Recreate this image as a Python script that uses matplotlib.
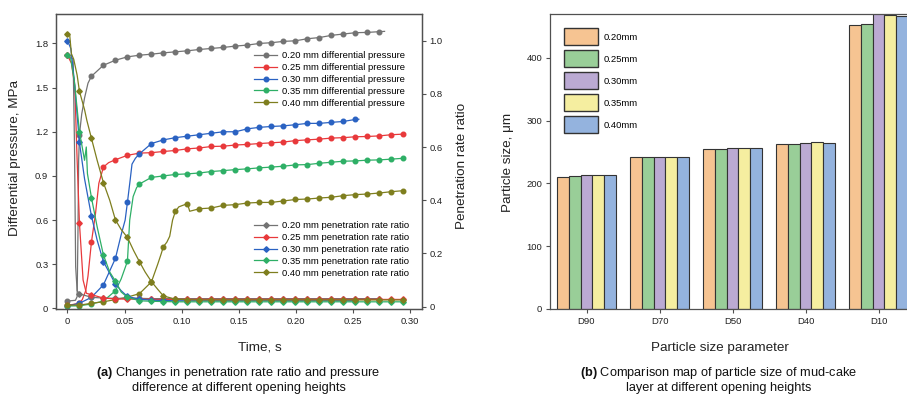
import matplotlib
matplotlib.use('Agg')
import matplotlib.pyplot as plt
import numpy as np
from matplotlib.lines import Line2D
from matplotlib.patches import Patch

plt.rcParams['font.family'] = ['Liberation Sans', 'DejaVu Sans']
plt.rcParams['mathtext.fontset'] = 'custom'
plt.rcParams['mathtext.rm'] = 'Liberation Sans'
plt.rcParams['mathtext.bf'] = 'Liberation Sans:bold'

# ---------------- data: panel (a) ----------------
STEP = 0.0105  # sampling interval of the marked points, s
openings = ['0.20', '0.25', '0.30', '0.35', '0.40']

# differential pressure (MPa) at marked points
p020 = [0.05, 1.18, 1.577, 1.652, 1.686, 1.709, 1.72, 1.727, 1.736, 1.743, 1.75, 1.759, 1.766, 1.773,
        1.782, 1.789, 1.80, 1.805, 1.814, 1.818, 1.832, 1.84, 1.855, 1.864, 1.873, 1.875, 1.88]
p020_xt = [0.007, 0.0085, 0.0092, 0.0098, 0.0125, 0.015, 0.018, 0.2775]
p020_xv = [0.055, 0.08, 0.5, 1.0, 1.32, 1.43, 1.53, 1.882]

p025 = [0.02, 0.035, 0.45, 0.96, 1.01, 1.04, 1.055, 1.058, 1.066, 1.073, 1.084, 1.09, 1.10, 1.102, 1.11,
        1.114, 1.12, 1.125, 1.13, 1.14, 1.145, 1.15, 1.157, 1.16, 1.166, 1.168, 1.172, 1.18, 1.184]
p025_xt = [0.013, 0.016, 0.018, 0.0245, 0.0275, 0.036]
p025_xv = [0.06, 0.12, 0.22, 0.64, 0.85, 0.99]

p030 = [0.016, 0.035, 0.075, 0.16, 0.34, 0.72, 1.05, 1.12, 1.145, 1.16, 1.17, 1.18, 1.19, 1.20, 1.20,
        1.22, 1.23, 1.236, 1.24, 1.248, 1.257, 1.257, 1.264, 1.27, 1.284]
p030_xt = [0.047, 0.0505, 0.055, 0.0565, 0.0595, 0.255]
p030_xv = [0.5, 0.6, 0.88, 0.98, 1.02, 1.285]

p035 = [0.016, 0.018, 0.03, 0.05, 0.12, 0.32, 0.845, 0.89, 0.90, 0.91, 0.914, 0.92, 0.93, 0.936, 0.943,
        0.948, 0.955, 0.96, 0.966, 0.975, 0.977, 0.986, 0.993, 1.0, 1.002, 1.007, 1.009, 1.014, 1.02]
p035_xt = [0.047, 0.0545, 0.0575, 0.0605]
p035_xv = [0.2, 0.6, 0.76, 0.82]

p040 = [0.023, 0.022, 0.035, 0.045, 0.06, 0.077, 0.10, 0.18, 0.42, 0.66, 0.712, 0.677, 0.682, 0.70, 0.705,
        0.716, 0.72, 0.72, 0.73, 0.74, 0.743, 0.75, 0.755, 0.766, 0.773, 0.777, 0.784, 0.793, 0.80]
p040_xt = [0.079, 0.082, 0.087, 0.0895, 0.092, 0.0975, 0.107]
p040_xv = [0.3, 0.37, 0.45, 0.49, 0.6, 0.69, 0.66]

# penetration rate ratio at marked points
r020 = [0.946, 0.048, 0.035, 0.032, 0.031, 0.031, 0.031, 0.03, 0.03, 0.03, 0.03, 0.03, 0.03, 0.03,
        0.03, 0.03, 0.03, 0.03, 0.03, 0.03, 0.03, 0.03, 0.03, 0.03, 0.03, 0.03, 0.03]
r020_xt = [0.005, 0.0062, 0.0072, 0.0085]
r020_xv = [0.93, 0.6, 0.15, 0.06]

r025 = [0.945, 0.315, 0.045, 0.032, 0.029, 0.028, 0.028, 0.027, 0.027, 0.027, 0.027, 0.027, 0.027, 0.027,
        0.027, 0.027, 0.027, 0.027, 0.027, 0.027, 0.027, 0.027, 0.027, 0.027, 0.027, 0.027, 0.027, 0.027, 0.027]
r025_xt = [0.0035, 0.0064, 0.0085, 0.0137, 0.0166]
r025_xv = [0.915, 0.83, 0.55, 0.10, 0.05]

r030 = [1.0, 0.617, 0.341, 0.169, 0.085, 0.038, 0.028, 0.024, 0.023, 0.022, 0.022, 0.022, 0.022, 0.022,
        0.022, 0.022, 0.022, 0.022, 0.022, 0.022, 0.022, 0.022, 0.022, 0.022, 0.022]
r030_xt = [0.003, 0.006, 0.015, 0.026, 0.037, 0.047]
r030_xv = [0.97, 0.85, 0.48, 0.25, 0.125, 0.06]

r035 = [0.945, 0.658, 0.41, 0.194, 0.096, 0.035, 0.022, 0.02, 0.019, 0.018, 0.018, 0.018, 0.018, 0.018,
        0.018, 0.018, 0.018, 0.018, 0.018, 0.018, 0.018, 0.018, 0.018, 0.018, 0.018, 0.018, 0.018, 0.018, 0.018]
r035_xt = [0.003, 0.006, 0.015, 0.0165, 0.0175, 0.026, 0.037, 0.047]
r035_xv = [0.93, 0.85, 0.55, 0.6, 0.5, 0.3, 0.13, 0.055]

r040 = [1.024, 0.81, 0.633, 0.466, 0.326, 0.26, 0.169, 0.094, 0.04, 0.028, 0.026, 0.025, 0.025, 0.025,
        0.025, 0.025, 0.025, 0.025, 0.025, 0.025, 0.025, 0.025, 0.025, 0.025, 0.025, 0.025, 0.025, 0.025, 0.025]
r040_xt = [0.002, 0.0035, 0.0055, 0.007, 0.0085, 0.015, 0.017, 0.026, 0.037, 0.047, 0.058, 0.068, 0.079]
r040_xv = [1.02, 0.95, 0.93, 0.9, 0.87, 0.74, 0.70, 0.55, 0.40, 0.29, 0.21, 0.13, 0.065]

line_colors = ['#737373', '#E8393B', '#2A62C2', '#2EAF66', '#7E7E1E']

# ---------------- data: panel (b) ----------------
params = ['D90', 'D70', 'D50', 'D40', 'D10']
size_020 = [211, 242, 255, 263, 452]
size_025 = [212, 242, 255, 263, 454]
size_030 = [214, 242, 256, 265, 472]
size_035 = [213, 242, 256, 266, 468]
size_040 = [213, 242, 256, 264, 467]
bar_colors = ['#F6C492', '#99CE98', '#BBAAD3', '#F5EEA0', '#94B3DE']
bar_labels = ['0.20mm', '0.25mm', '0.30mm', '0.35mm', '0.40mm']

W, H = 907, 395
fig = plt.figure(figsize=(W / 100, H / 100), dpi=100)


def build(grid_vals, xt, xv):
    tg = np.arange(len(grid_vals)) * STEP
    t = np.concatenate([tg, np.asarray(xt, float)])
    v = np.concatenate([np.asarray(grid_vals, float), np.asarray(xv, float)])
    flag = np.concatenate([np.ones(len(tg), bool), np.zeros(len(xt), bool)])
    order = np.argsort(t, kind='stable')
    t, v, flag = t[order], v[order], flag[order]
    return t, v, list(np.where(flag)[0])


spine_c = '#505050'
tick_fs = 6.8
ax = fig.add_axes([56 / W, 1 - 309 / H, 365.7 / W, 295 / H])
ax2 = ax.twinx()

pressures = [(p020, p020_xt, p020_xv), (p025, p025_xt, p025_xv), (p030, p030_xt, p030_xv),
             (p035, p035_xt, p035_xv), (p040, p040_xt, p040_xv)]
ratios = [(r020, r020_xt, r020_xv), (r025, r025_xt, r025_xv), (r030, r030_xt, r030_xv),
          (r035, r035_xt, r035_xv), (r040, r040_xt, r040_xv)]

p_handles, r_handles = [], []
for (g, xt, xv), c, o in zip(pressures, line_colors, openings):
    t, v, me = build(g, xt, xv)
    ax.plot(t, v, color=c, lw=0.9, marker='o', ms=3.3, markevery=me)
    p_handles.append(Line2D([], [], color=c, lw=0.9, marker='o', ms=3.3,
                            label=f'{o} mm differential pressure'))
for (g, xt, xv), c, o in zip(ratios, line_colors, openings):
    t, v, me = build(g, xt, xv)
    ax2.plot(t, v, color=c, lw=0.9, marker='D', ms=2.8, markevery=me)
    r_handles.append(Line2D([], [], color=c, lw=0.9, marker='D', ms=2.8,
                            label=f'{o} mm penetration rate ratio'))

ax.set_xlim(-0.01, 0.31)
ax.set_ylim(-0.004, 2.0)
ax2.set_ylim(-0.009, 1.1)
ax.set_xticks([0, 0.05, 0.10, 0.15, 0.20, 0.25, 0.30])
ax.set_xticklabels(['0', '0.05', '0.10', '0.15', '0.20', '0.25', '0.30'])
ax.set_yticks([0, 0.3, 0.6, 0.9, 1.2, 1.5, 1.8])
ax.set_yticklabels(['0', '0.3', '0.6', '0.9', '1.2', '1.5', '1.8'])
ax2.set_yticks([0, 0.2, 0.4, 0.6, 0.8, 1.0])
ax2.set_yticklabels(['0', '0.2', '0.4', '0.6', '0.8', '1.0'])

for a in (ax, ax2):
    for s in a.spines.values():
        s.set_color(spine_c)
        s.set_linewidth(0.9)
    a.tick_params(labelsize=tick_fs, length=3, width=0.8, color=spine_c, labelcolor='#222222', pad=2.5)

leg_kw = dict(fontsize=6.8, frameon=False, loc='upper left', borderpad=0, borderaxespad=0,
              handlelength=2.45, handletextpad=0.5, labelspacing=0.31, numpoints=1)
leg1 = ax2.legend(handles=p_handles, bbox_to_anchor=((254 - 56) / 365.7, 1 - (51.0 - 14) / 295), **leg_kw)
ax2.add_artist(leg1)
ax2.legend(handles=r_handles, bbox_to_anchor=((254 - 56) / 365.7, 1 - (221.0 - 14) / 295), **leg_kw)

# ---------------- panel (b) ----------------
axb = fig.add_axes([550 / W, 1 - 309 / H, 365 / W, 295 / H])
x = np.arange(len(params))
bw = 0.16
series = [size_020, size_025, size_030, size_035, size_040]
for i, (vals, c, lab) in enumerate(zip(series, bar_colors, bar_labels)):
    axb.bar(x + (i - 2) * bw, vals, width=bw, color=c, edgecolor='#333333', linewidth=0.8, label=lab)
axb.set_xlim(-0.5, 4.5)
axb.set_ylim(0, 470)
axb.set_xticks(x)
axb.set_xticklabels(params)
axb.set_yticks([0, 100, 200, 300, 400])
for s in axb.spines.values():
    s.set_color(spine_c)
    s.set_linewidth(0.9)
axb.tick_params(labelsize=tick_fs, length=3, width=0.8, color=spine_c, labelcolor='#222222', pad=2.5)
handles_b = [Patch(facecolor=c, edgecolor='#333333', linewidth=1.0, label=l) for c, l in zip(bar_colors, bar_labels)]
axb.legend(handles=handles_b, fontsize=6.8, frameon=False, loc='upper left', borderpad=0, borderaxespad=0,
           bbox_to_anchor=((564 - 550) / 365, 1 - (28.3 - 14) / 295), handlelength=3.55, handleheight=2.35,
           labelspacing=0.56, handletextpad=0.6)

# ---------------- labels and captions ----------------
def fx(px):
    return px / W


def fy(py):
    return 1 - py / H


lab_fs = 9.7
fig.text(fx(15), fy(158.5), 'Differential pressure, MPa', rotation=90, ha='center', va='center', fontsize=lab_fs, color='#222222')
fig.text(fx(461.7), fy(166), 'Penetration rate ratio', rotation=90, ha='center', va='center', fontsize=lab_fs, color='#222222')
fig.text(fx(507.5), fy(162.5), 'Particle size, μm', rotation=90, ha='center', va='center', fontsize=lab_fs, color='#222222')
fig.text(fx(260), fy(348), 'Time, s', ha='center', va='center', fontsize=lab_fs, color='#222222')
fig.text(fx(720), fy(348), 'Particle size parameter', ha='center', va='center', fontsize=lab_fs, color='#222222')

cap_fs = 9.2
fig.text(fx(238.5), fy(373), r'$\mathbf{(a)}$ Changes in penetration rate ratio and pressure', ha='center', va='center', fontsize=cap_fs, color='#111111')
fig.text(fx(239), fy(388), 'difference at different opening heights', ha='center', va='center', fontsize=cap_fs, color='#111111')
fig.text(fx(719), fy(373), r'$\mathbf{(b)}$ Comparison map of particle size of mud-cake', ha='center', va='center', fontsize=cap_fs, color='#111111')
fig.text(fx(719), fy(388), 'layer at different opening heights', ha='center', va='center', fontsize=cap_fs, color='#111111')

fig.savefig('out.png', dpi=100)
